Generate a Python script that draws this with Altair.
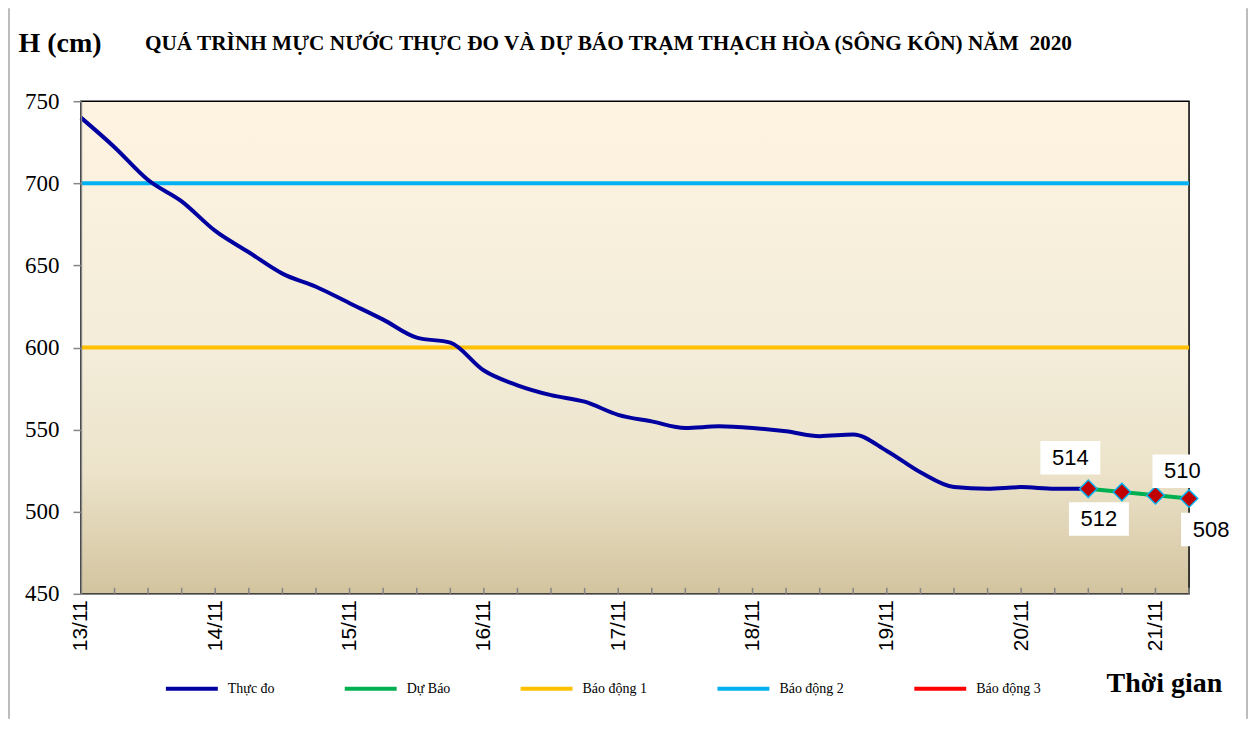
import altair as alt
import pandas as pd

# ---------------- data ----------------
start_time = "2020-11-13 00:00"
step = "6h"
measured = [740, 722, 702, 689, 671, 658, 645, 637, 627, 617, 606, 603, 586, 577,
            571, 567, 559, 555, 551, 552, 551, 549, 546, 547, 537, 524, 515, 514,
            515, 514, 514]
forecast = [514, 512, 510, 508]
forecast_start = 30          # index (6-hour steps) where forecast starts
n_steps = 34                 # 13/11 00h .. 21/11 06h
alarm_names = ["Báo động 1", "Báo động 2"]
alarm_levels = [600, 700]
series_names = ["Thực đo", "Dự Báo", "Báo động 1", "Báo động 2", "Báo động 3"]
series_colors = ["#0000A0", "#00B050", "#FFC000", "#00B0F0", "#FF0000"]
y_ticks = [450, 500, 550, 600, 650, 700, 750]
title_text = "QUÁ TRÌNH MỰC NƯỚC THỰC ĐO VÀ DỰ BÁO TRẠM THẠCH HÒA (SÔNG KÔN) NĂM \u00a02020"
y_title = "H (cm)"
x_title = "Thời gian"

# label offsets (style) for forecast value labels
label_dx = [-18, -23, 27, 22]
label_dy = [-31, 27, -24, 31]

# ---------------- tables ----------------
times = pd.date_range(start_time, periods=n_steps, freq=step)
df_meas = pd.DataFrame({"time": times[:len(measured)], "value": measured,
                        "series": "Thực đo"})
df_fc = pd.DataFrame({"time": times[forecast_start:forecast_start + len(forecast)],
                      "value": forecast, "series": "Dự Báo"})
df_alarm = pd.DataFrame({
    "time": [times[0], times[-1]] * len(alarm_levels),
    "value": [v for v in alarm_levels for _ in range(2)],
    "series": [n for n in alarm_names for _ in range(2)],
})
df_ticks = pd.DataFrame({"time": times[1:]})

W, H = 1109, 493

x_enc = alt.X("time:T",
              scale=alt.Scale(domain=[alt.DateTime(year=2020, month=11, date=13, hours=0),
                                      alt.DateTime(year=2020, month=11, date=21, hours=6)]),
              axis=alt.Axis(format="%d/%m", tickCount={"interval": "day", "step": 1},
                            labelAngle=270, labelAlign="right", labelBaseline="middle",
                            labelPadding=6, labelFont="Liberation Sans", labelFontSize=21,
                            labelColor="black", labelOverlap=False, labelFlush=False,
                            ticks=False, grid=False, domainColor="#868686", domainWidth=1.5,
                            title=x_title, titleFont="Liberation Serif", titleFontSize=28,
                            titleFontWeight="bold", titleColor="black", titleAngle=0,
                            titleAlign="left", titleBaseline="alphabetic",
                            titleX=1026, titleY=98, zindex=1))
y_enc = alt.Y("value:Q",
              scale=alt.Scale(domain=[450, 750], nice=False, zero=False),
              axis=alt.Axis(values=y_ticks, labelFont="Liberation Serif", labelFontSize=23,
                            labelColor="black", labelPadding=14, tickSize=8,
                            tickColor="#868686", tickWidth=1.5, grid=False,
                            domainColor="#868686", domainWidth=1.5,
                            title=y_title, titleFont="Liberation Serif", titleFontSize=28,
                            titleFontWeight="bold", titleColor="black", titleAngle=0,
                            titleAlign="left", titleBaseline="alphabetic",
                            titleX=-63, titleY=-50, zindex=1))
color_enc = alt.Color("series:N",
                      scale=alt.Scale(domain=series_names, range=series_colors),
                      legend=alt.Legend(title=None, orient="none", legendX=83, legendY=560,
                                        direction="horizontal", symbolType="stroke",
                                        symbolSize=2700, symbolStrokeWidth=4,
                                        labelFont="Liberation Serif", labelFontSize=14,
                                        labelColor="black", labelOffset=8,
                                        columnPadding=62))

bg = alt.Chart(pd.DataFrame({"a": [0]})).mark_rect(
    fill=alt.Gradient(gradient="linear", x1=0, y1=0, x2=0, y2=1,
                      stops=[alt.GradientStop(color="#FEF3E0", offset=0),
                             alt.GradientStop(color="#F3EDDA", offset=0.5),
                             alt.GradientStop(color="#ECE3CA", offset=0.75),
                             alt.GradientStop(color="#D3C49F", offset=1)]),
    stroke="black", strokeWidth=1.5
).encode(x=alt.value(0), x2=alt.value(W), y=alt.value(0), y2=alt.value(H))

frame_l = alt.Chart(pd.DataFrame({"a": [0]})).mark_rule(color="#A6A6A6", strokeWidth=1.5).encode(
    x=alt.value(-72), y=alt.value(-93), y2=alt.value(H + 125))
frame_r = alt.Chart(pd.DataFrame({"a": [0]})).mark_rule(color="#A6A6A6", strokeWidth=1.5).encode(
    x=alt.value(W + 58), y=alt.value(-93), y2=alt.value(H + 125))

ticks = alt.Chart(df_ticks).mark_rule(color="#868686", strokeWidth=1.5).encode(
    x="time:T", y=alt.value(H), y2=alt.value(H - 6))

alarm = alt.Chart(df_alarm).mark_line(strokeWidth=4).encode(
    x=x_enc, y=y_enc, color=color_enc, detail="series:N")
meas = alt.Chart(df_meas).mark_line(strokeWidth=4, interpolate="monotone").encode(
    x="time:T", y="value:Q", color="series:N")
fc_line = alt.Chart(df_fc).mark_line(strokeWidth=4).encode(
    x="time:T", y="value:Q", color="series:N")
fc_pts = alt.Chart(df_fc).mark_point(shape="diamond", filled=True, fill="#C00000",
                                     stroke="#00B0F0", strokeWidth=1.5, size=300,
                                     opacity=1).encode(x="time:T", y="value:Q")

label_layers = []
for i in range(len(forecast)):
    d = df_fc.iloc[[i]]
    box = alt.Chart(d).mark_point(shape="M-1,-0.56H1V0.56H-1Z", filled=True,
                                  fill="white", strokeWidth=0, size=3600, opacity=1,
                                  xOffset=label_dx[i], yOffset=label_dy[i]).encode(
        x="time:T", y="value:Q")
    txt = alt.Chart(d).mark_text(font="Liberation Sans", fontSize=22, color="black",
                                 dx=label_dx[i], dy=label_dy[i], baseline="middle",
                                 align="center").encode(
        x="time:T", y="value:Q", text=alt.Text("value:Q"))
    label_layers += [box, txt]

chart = alt.layer(bg, frame_l, frame_r, ticks, alarm, meas, fc_line, fc_pts,
                  *label_layers).properties(
    width=W, height=H,
    autosize=alt.AutoSizeParams(type="none"),
    padding={"left": 73, "top": 93, "right": 60, "bottom": 125},
    title=alt.Title(title_text, font="Liberation Serif", fontSize=21.3, fontWeight="bold",
                    color="black", anchor="start", frame="group", dx=64, dy=51, offset=4),
    background="white",
).configure_view(stroke=None)

chart.save("out.html", embed_options={"renderer": "svg", "actions": False})
